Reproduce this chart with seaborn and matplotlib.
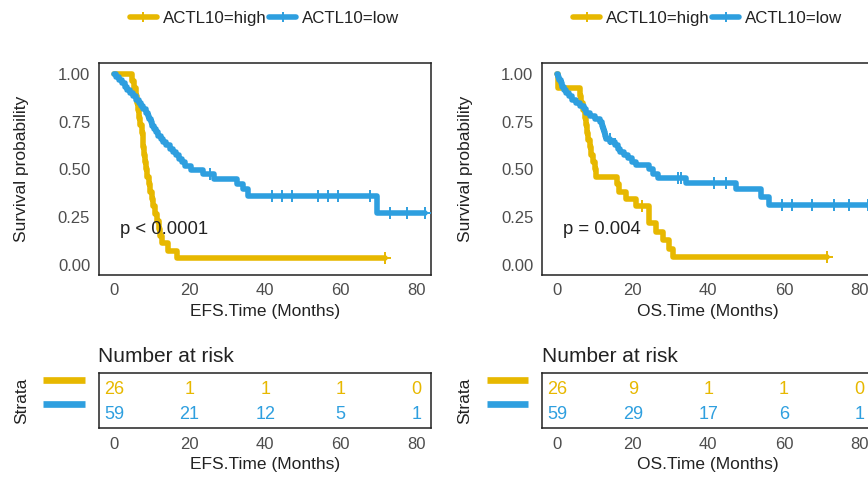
import numpy as np
import pandas as pd
import matplotlib
matplotlib.use("Agg")
import matplotlib.pyplot as plt
from matplotlib.lines import Line2D
from matplotlib.transforms import blended_transform_factory
import seaborn as sns

# ---------------- data ----------------
strata = ["ACTL10=high", "ACTL10=low"]
risk_times = [0, 20, 40, 60, 80]

# EFS, ACTL10=high : step times / survival after each step
efs_high_t = [0, 4.7, 5.2, 5.8, 6.2, 6.4, 6.6, 7.0, 7.3, 7.6, 7.8, 8.0, 8.2, 8.4,
              8.7, 9.2, 9.6, 10.0, 10.4, 10.9, 11.4, 11.8, 12.2, 12.7, 14.2, 16.8]
efs_high_s = [1.0, 0.962, 0.923, 0.885, 0.846, 0.808, 0.769, 0.731, 0.692, 0.654,
              0.615, 0.577, 0.538, 0.500, 0.462, 0.423, 0.385, 0.346, 0.308, 0.269,
              0.231, 0.192, 0.154, 0.115, 0.077, 0.038]
efs_high_cens = [71.7]

# EFS, ACTL10=low
efs_low_t = [0, 0.5, 1.2, 2.0, 2.8, 3.5, 4.2, 5.0, 5.8, 6.5, 7.2, 7.8, 8.4, 8.9,
             9.3, 9.7, 10.1, 10.6, 11.1, 11.6, 12.4, 13.0, 13.8, 14.7, 15.6, 16.4,
             17.3, 18.0, 18.9, 20.5, 23.5, 26.5, 32.5, 34.1, 35.5, 69.6]
efs_low_s = [1.0, 0.983, 0.966, 0.949, 0.932, 0.915, 0.898, 0.881, 0.864, 0.847,
             0.830, 0.813, 0.796, 0.779, 0.762, 0.745, 0.728, 0.711, 0.694, 0.677,
             0.660, 0.643, 0.626, 0.609, 0.592, 0.575, 0.556, 0.537, 0.518, 0.498,
             0.476, 0.452, 0.426, 0.398, 0.362, 0.272]
efs_low_cens = [25.5, 41.7, 44.4, 47.0, 54.0, 56.7, 59.3, 67.7, 73.0, 77.4, 82.3]

# OS, ACTL10=high
os_high_t = [0, 0.3, 6.0, 6.3, 6.8, 7.3, 7.6, 7.9, 8.2, 8.6, 9.0, 9.5, 9.9, 10.4,
             15.8, 16.3, 18.3, 20.9, 24.4, 26.2, 27.9, 29.7, 30.6]
os_high_s = [1.0, 0.923, 0.885, 0.846, 0.808, 0.769, 0.731, 0.692, 0.654, 0.615,
             0.577, 0.538, 0.500, 0.462, 0.423, 0.385, 0.346, 0.308, 0.220, 0.176,
             0.132, 0.088, 0.044]
os_high_cens = [22.5, 71.4]

# OS, ACTL10=low
os_low_t = [0, 0.3, 0.6, 0.9, 1.3, 1.7, 2.3, 3.2, 4.0, 5.0, 6.0, 7.0, 7.7, 8.6,
            9.9, 11.3, 11.8, 12.0, 12.3, 12.6, 13.0, 14.0, 15.2, 16.0, 16.6, 17.6,
            18.7, 19.8, 20.9, 24.4, 25.3, 26.6, 34.1, 47.3, 53.8, 56.0]
os_low_s = [1.0, 0.983, 0.966, 0.949, 0.932, 0.915, 0.898, 0.881, 0.864, 0.847,
            0.830, 0.813, 0.796, 0.779, 0.762, 0.745, 0.728, 0.711, 0.694, 0.677,
            0.660, 0.643, 0.626, 0.609, 0.592, 0.575, 0.558, 0.541, 0.522, 0.500,
            0.478, 0.456, 0.432, 0.397, 0.358, 0.313]
os_low_cens = [13.9, 31.9, 32.8, 41.5, 44.6, 59.6, 62.2, 67.5, 73.2, 77.1, 82.3]

# number at risk tables
efs_risk_high = [26, 1, 1, 1, 0]
efs_risk_low = [59, 21, 12, 5, 1]
os_risk_high = [26, 9, 1, 1, 0]
os_risk_low = [59, 29, 17, 6, 1]

efs_pval = "p < 0.0001"
os_pval = "p = 0.004"

# ---------------- style ----------------
YEL = "#E7B800"
BLU = "#2E9FDF"
TXT = "#222222"
TICK = "#4D4D4D"

sns.set_style("white")
plt.rcParams["font.family"] = ["Liberation Sans", "DejaVu Sans"]

W, H = 868, 479
fig = plt.figure(figsize=(W / 100, H / 100), dpi=100)


def add_axes_px(x0, y0, x1, y1):
    return fig.add_axes([x0 / W, 1 - y1 / H, (x1 - x0) / W, (y1 - y0) / H])


XLIM = (-4.1, 83.8)


def style_axis(ax):
    for sp in ax.spines.values():
        sp.set_visible(True)
        sp.set_color(TXT)
        sp.set_linewidth(1.1)
    ax.tick_params(axis="both", direction="out", length=4, width=1.1,
                   color=TXT, labelcolor=TICK, labelsize=12, pad=2)
    ax.set_xlim(*XLIM)
    ax.set_xticks(risk_times)
    ax.set_xticklabels([str(t) for t in risk_times])


def step_value(t, s, c):
    idx = np.searchsorted(np.asarray(t), c, side="right") - 1
    return float(np.asarray(s)[idx])


def km_panel(ax, groups, pval, xlabel):
    for t, s, cens, color in groups:
        end = max(cens)
        df = pd.DataFrame({"time": list(t) + [end], "surv": list(s) + [s[-1]]})
        sns.lineplot(data=df, x="time", y="surv", drawstyle="steps-post",
                     estimator=None, sort=False, color=color, lw=4.0, ax=ax,
                     zorder=2)
        cy = [step_value(t, s, c) for c in cens]
        sns.scatterplot(x=cens, y=cy, marker="+", s=70, color=color,
                        linewidth=1.4, ax=ax, zorder=3)
    style_axis(ax)
    ax.set_ylim(-0.05, 1.055)
    ax.set_yticks([0, 0.25, 0.5, 0.75, 1.0])
    ax.set_yticklabels(["0.00", "0.25", "0.50", "0.75", "1.00"])
    ax.set_xlabel(xlabel, fontsize=12.5, color=TXT, labelpad=4)
    ax.set_ylabel("Survival probability", fontsize=12.5, color=TXT)
    ax.yaxis.set_label_coords(-0.208, 0.5)
    ax.text(1.5, 0.185, pval, fontsize=13.3, color=TXT, ha="left", va="center")
    handles = [Line2D([], [], color=YEL, lw=4, marker="+", markersize=7, mew=1.4),
               Line2D([], [], color=BLU, lw=4, marker="+", markersize=7, mew=1.4)]
    ax.legend(handles, strata, ncol=2, loc="center", bbox_to_anchor=(0.5, 1.21),
              frameon=False, handlelength=1.6, columnspacing=0.15,
              handletextpad=0.35, fontsize=12.2, labelcolor=TXT)


def risk_panel(ax, high, low, xlabel):
    style_axis(ax)
    ax.set_ylim(0.48, 2.62)
    ax.set_yticks([])
    for t, n in zip(risk_times, high):
        ax.text(t, 2, str(n), color=YEL, fontsize=13, ha="center", va="center")
    for t, n in zip(risk_times, low):
        ax.text(t, 1, str(n), color=BLU, fontsize=13, ha="center", va="center")
    ax.set_xlabel(xlabel, fontsize=12.5, color=TXT, labelpad=4)
    ax.set_ylabel("Strata", fontsize=12.5, color=TXT)
    ax.yaxis.set_label_coords(-0.208, 0.5)
    ax.text(0.0, 1.30, "Number at risk", transform=ax.transAxes, fontsize=15,
            color=TXT, ha="left", va="center")
    trans = blended_transform_factory(ax.transAxes, ax.transData)
    for yv, col in ((2.36, YEL), (1.43, BLU)):
        ax.plot([-0.166, -0.041], [yv, yv], transform=trans, color=col, lw=4.8,
                solid_capstyle="butt", clip_on=False)


# left panel (EFS)
ax1 = add_axes_px(98.5, 63, 430.7, 275)
km_panel(ax1, [(efs_high_t, efs_high_s, efs_high_cens, YEL),
               (efs_low_t, efs_low_s, efs_low_cens, BLU)],
         efs_pval, "EFS.Time (Months)")
ax2 = add_axes_px(98.5, 373.3, 430.7, 428.3)
risk_panel(ax2, efs_risk_high, efs_risk_low, "EFS.Time (Months)")

# right panel (OS) - extends past the right edge, as in the reference crop
ax3 = add_axes_px(541.7, 63, 873.9, 275)
km_panel(ax3, [(os_high_t, os_high_s, os_high_cens, YEL),
               (os_low_t, os_low_s, os_low_cens, BLU)],
         os_pval, "OS.Time (Months)")
ax4 = add_axes_px(541.7, 373.3, 873.9, 428.3)
risk_panel(ax4, os_risk_high, os_risk_low, "OS.Time (Months)")

fig.savefig("out.png", dpi=100, facecolor="white")
